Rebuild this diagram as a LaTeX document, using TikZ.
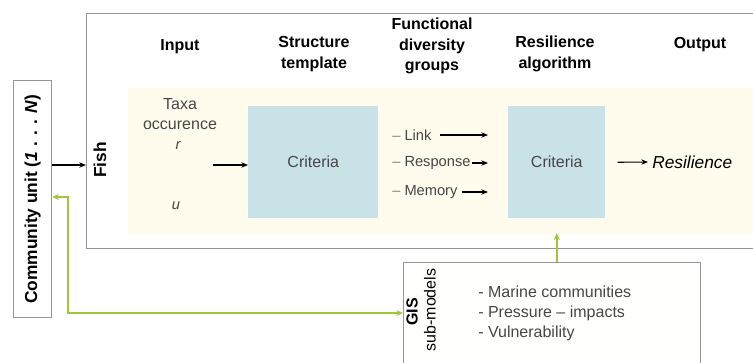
\documentclass[tikz,border=0pt]{standalone}
\usepackage{fontspec}
\setmainfont{Liberation Sans}
\usetikzlibrary{arrows.meta,positioning,calc}
\definecolor{critblue}{RGB}{201,226,232}
\definecolor{creambg}{RGB}{255,252,238}
\definecolor{gisgreen}{RGB}{158,200,56}
\definecolor{framegray}{RGB}{150,150,150}
\definecolor{txtgray}{RGB}{70,70,70}

\begin{document}
\begin{tikzpicture}[x=0.75pt, y=-0.75pt,
    header/.style={font=\bfseries\fontsize{12}{15.5}\selectfont, align=center},
    body/.style={font=\fontsize{12}{15}\selectfont, text=txtgray},
    critbox/.style={fill=critblue, draw=none, anchor=north west, inner sep=0pt,
        minimum height=84pt, font=\fontsize{12}{15}\selectfont, text=txtgray},
    group/.style={font=\fontsize{11}{13}\selectfont, text=txtgray, anchor=west, inner sep=0pt},
    blackarrow/.style={-{Stealth[length=5pt,width=4pt]}, black, line width=0.8pt},
    greenarrow/.style={-{Stealth[length=5pt,width=4.5pt]}, gisgreen, line width=1.5pt}
]
    \clip (0,0) rectangle (753,362);
    \fill[white] (0,0) rectangle (753,362);

    % Fish frame and cream band
    \node[draw=framegray, line width=0.9pt, fill=white, anchor=north west, inner sep=0pt,
        minimum width=510pt, minimum height=176.25pt] (fishbox) at (86,13) {};
    \node[fill=creambg, anchor=north west, inner sep=0pt,
        minimum width=480pt, minimum height=109.5pt] (cream) at (128,88) {};
    \node[font=\bfseries\fontsize{13}{15}\selectfont, rotate=90] (fish) at (100,160) {Fish};

    % Column headers
    \node[header] (hinput) at (180,47) {Input};
    \node[header] (hstruct) at (314,54) {Structure\\template};
    \node[header] (hfunc) at (432,46) {Functional\\diversity\\groups};
    \node[header] (hresil) at (555,54) {Resilience\\algorithm};
    \node[header] (houtput) at (700,45) {Output};

    % Input column
    \node[body, align=center] (taxa) at (180,114) {Taxa\\occurence};
    \node[body, font=\itshape\fontsize{11}{13}\selectfont] (rvar) at (178,146) {r};
    \node[body, font=\itshape\fontsize{11}{13}\selectfont] (uvar) at (176,206) {u};
    \coordinate (inarrow) at (213,165);

    % Criteria boxes
    \node[critbox, minimum width=97.5pt] (crit1) at (248,106) {Criteria};
    \node[critbox, minimum width=72.75pt] (crit2) at (508,106) {Criteria};
    \draw[blackarrow] (inarrow) -- (inarrow -| crit1.west);

    % Functional diversity groups
    \node[group] (link) at (392,135) {\textcolor{gray}{--} Link};
    \node[group] (response) at (392,163) {\textcolor{gray}{--} Response};
    \node[group] (memory) at (392,192) {\textcolor{gray}{--} Memory};
    \coordinate (grpend) at (488,163);
    \draw[blackarrow] ([xshift=6pt]link.east) -- (link -| grpend);
    \draw[blackarrow] ([xshift=1pt]response.east) -- (response -| grpend);
    \draw[blackarrow] ([xshift=3pt]memory.east) -- (memory -| grpend);

    % Output
    \node[font=\itshape\fontsize{13}{15}\selectfont, anchor=west, inner sep=0pt] (resil) at (652,162) {Resilience};
    \draw[blackarrow] ([xshift=9pt]crit2.east) -- ([xshift=-3pt]resil.west);

    % Community unit
    \node[draw=framegray, line width=0.9pt, fill=white, anchor=north west, inner sep=0pt,
        minimum width=28.5pt, minimum height=177.75pt] (commbox) at (13,80) {};
    \node[font=\bfseries\fontsize{13}{15}\selectfont, rotate=90] (commtext) at (commbox.center)
        {Community unit (\textit{1} . . . \textit{N})};
    \draw[blackarrow, line width=1.5pt] (commbox.east |- 0,165) -- (fishbox.west |- 0,165);

    % GIS sub-models
    \node[draw=framegray, line width=0.9pt, fill=white!96!creambg, anchor=north west, inner sep=0pt,
        minimum width=222.75pt, minimum height=90pt] (gisbox) at (403,262) {};
    \node[font=\bfseries\fontsize{12}{15}\selectfont, rotate=90] (gis) at (412,312) {GIS};
    \node[font=\fontsize{12}{15}\selectfont, rotate=90] (submodels) at (430,310) {sub-models};
    \node[body, anchor=north west, align=left, inner sep=0pt] (gislist) at (478,286)
        {- Marine communities\\- Pressure -- impacts\\- Vulnerability};

    % Green links
    \coordinate (bend) at (68,197);
    \draw[greenarrow, {Stealth[length=5pt,width=4.5pt]}-{Stealth[length=5pt,width=4.5pt]}]
        (commbox.east |- bend) -- (bend) |- (gisbox.west |- 0,313);
    \draw[greenarrow, shorten >=11pt] (gisbox.north -| crit2.south) -- (crit2.south);
\end{tikzpicture}
\end{document}
